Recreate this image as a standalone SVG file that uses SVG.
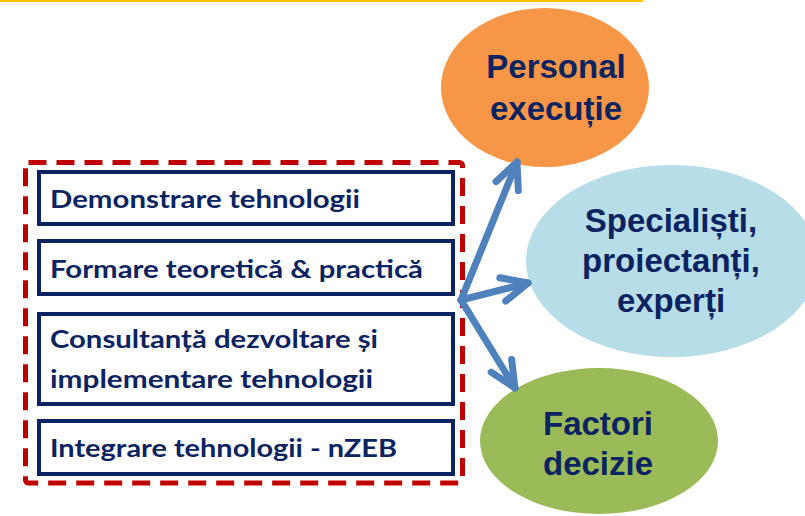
<svg xmlns="http://www.w3.org/2000/svg" width="805" height="516" viewBox="0 0 805 516">
<style>
.box{fill:#fff;stroke:#0B2461;stroke-width:4}
.bt{font-family:Lato,"Liberation Sans",sans-serif;font-weight:bold;font-size:25.5px;fill:#0B2461}
.et{font-family:"Liberation Sans",Arial,sans-serif;font-weight:bold;font-size:33px;fill:#0B2461;text-anchor:middle}
.arr{fill:none;stroke:#4F81BD;stroke-width:7;stroke-linecap:round;stroke-linejoin:round}
</style>
<defs>
<marker id="ah" markerUnits="userSpaceOnUse" orient="auto" markerWidth="40" markerHeight="40" viewBox="-32 -20 40 40" refX="0" refY="0">
<path d="M-26,-12 L0,0 L-26,12" fill="none" stroke="#4F81BD" stroke-width="7" stroke-linecap="round" stroke-linejoin="round"/>
</marker>
</defs>
<line x1="0" y1="1" x2="643" y2="1" stroke="#FFC000" stroke-width="2"/>
<g id="personal">
<ellipse cx="545" cy="87.5" rx="104" ry="79.5" fill="#F79646"/>
<text class="et" x="556" y="78">Personal</text>
<text class="et" x="556" y="120">execuție</text>
</g>
<g id="specialisti">
<ellipse cx="672" cy="261" rx="146" ry="96" fill="#B7DDE8"/>
<text class="et" x="671" y="232">Specialiști,</text>
<text class="et" x="671" y="272">proiectanți,</text>
<text class="et" x="671" y="312">experți</text>
</g>
<g id="factori">
<ellipse cx="599" cy="441" rx="119" ry="73" fill="#9BBB59"/>
<text class="et" x="598" y="435">Factori</text>
<text class="et" x="598" y="475">decizie</text>
</g>
<g id="group">
<rect x="25.5" y="162.5" width="437" height="320.5" rx="3" fill="none" stroke="#C00000" stroke-width="5" stroke-dasharray="18 10"/>
</g>
<g id="connectors">
<line class="arr" x1="461" y1="300" x2="517" y2="162" marker-end="url(#ah)"/>
<line class="arr" x1="461" y1="300" x2="528" y2="283" marker-end="url(#ah)"/>
<line class="arr" x1="461" y1="300" x2="515" y2="388" marker-end="url(#ah)"/>
</g>
<g id="b1">
<rect class="box" x="39" y="172" width="414" height="52"/>
<text class="bt" x="50" y="208" textLength="310" lengthAdjust="spacingAndGlyphs">Demonstrare tehnologii</text>
</g>
<g id="b2">
<rect class="box" x="39" y="241" width="414" height="53"/>
<text class="bt" x="50" y="278" textLength="373" lengthAdjust="spacingAndGlyphs">Formare teoretică &amp; practică</text>
</g>
<g id="b3">
<rect class="box" x="39" y="314" width="414" height="90"/>
<text class="bt" x="50" y="348" textLength="328" lengthAdjust="spacingAndGlyphs">Consultanță dezvoltare și</text>
<text class="bt" x="50" y="388" textLength="323" lengthAdjust="spacingAndGlyphs">implementare tehnologii</text>
</g>
<g id="b4">
<rect class="box" x="39" y="421" width="414" height="53"/>
<text class="bt" x="50" y="457" textLength="347" lengthAdjust="spacingAndGlyphs">Integrare tehnologii - nZEB</text>
</g>
</svg>
